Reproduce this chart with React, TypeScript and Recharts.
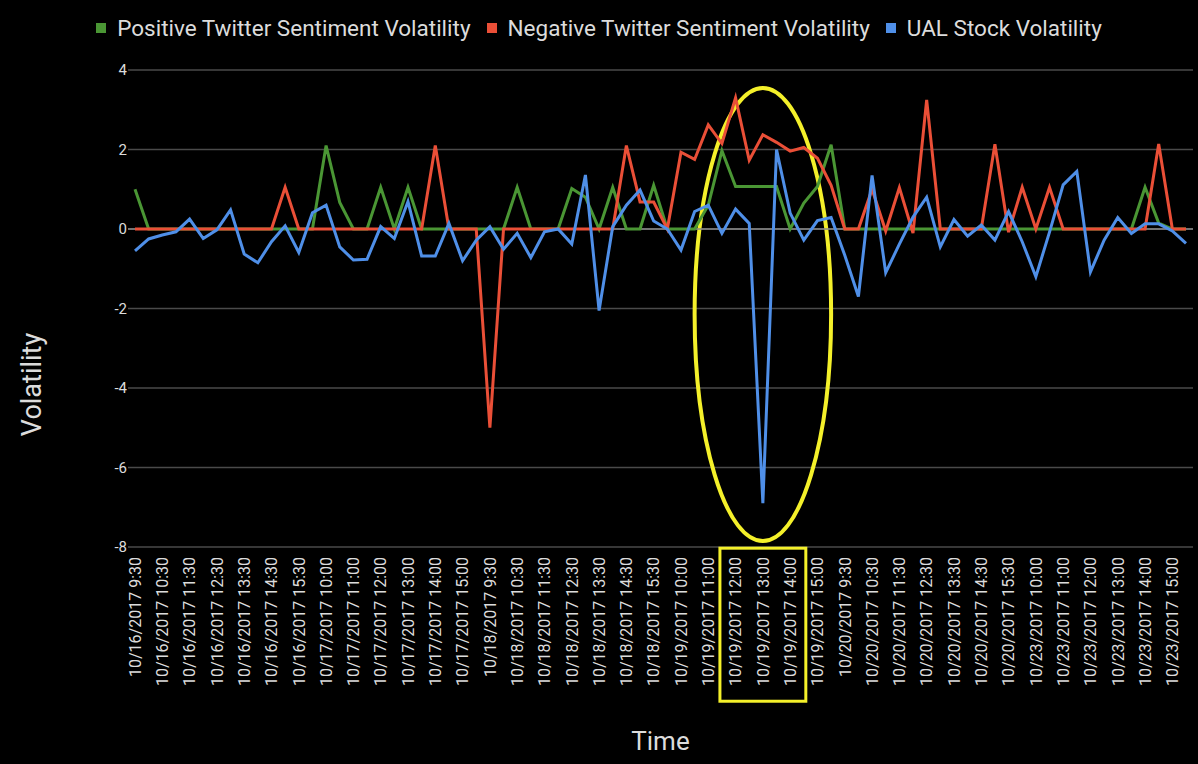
import React from 'react';
import { LineChart, Line, XAxis, YAxis, CartesianGrid, Legend, ReferenceLine, ReferenceArea } from 'recharts';

const DAYS = ['10/16/2017', '10/17/2017', '10/18/2017', '10/19/2017', '10/20/2017', '10/23/2017'];
const TIMES = ['9:30', '10:00', '10:30', '11:00', '11:30', '12:00', '12:30', '13:00', '13:30', '14:00', '14:30', '15:00', '15:30'];
const CATEGORIES = DAYS.flatMap((d) => TIMES.map((t) => `${d} ${t}`));

// one row per day (13 half-hour slots)
const POSITIVE = [
  1.0, 0, 0, 0, 0, 0, 0, 0, 0, 0, 0, 0, 0,
  0, 2.1, 0.67, 0, 0, 1.05, 0, 1.05, 0, 0, 0, 0, 0,
  0, 0, 1.05, 0, 0, 0, 1.02, 0.8, 0, 1.05, 0, 0, 1.1,
  0, 0, 0, 0.6, 1.97, 1.07, 1.07, 1.07, 1.07, 0, 0.65, 1.07, 2.12,
  0, 0, 0, 0, 0, 0, 0, 0, 0, 0, 0, 0, 0,
  0, 0, 0, 0, 0, 0, 0, 0, 0, 1.05, 0.15, 0, 0,
];
const NEGATIVE = [
  0, 0, 0, 0, 0, 0, 0, 0, 0, 0, 0, 1.05, 0,
  0, 0, 0, 0, 0, 0, 0, 0, 0, 2.1, 0, 0, 0,
  -5, 0, 0, 0, 0, 0, 0, 0, 0, 0, 2.1, 0.68, 0.68,
  0, 1.93, 1.75, 2.62, 2.15, 3.3, 1.73, 2.37, 2.18, 1.96, 2.05, 1.78, 1.1,
  0, 0, 1.0, -0.05, 1.04, -0.1, 3.25, 0, 0, 0, 0, 2.13, -0.08,
  1.05, 0, 1.05, 0, 0, 0, 0, 0, 0, 0, 2.14, 0, 0,
];
const UAL = [
  -0.55, -0.25, -0.15, -0.07, 0.25, -0.24, -0.02, 0.48, -0.63, -0.85, -0.32, 0.08, -0.59,
  0.41, 0.6, -0.45, -0.78, -0.76, 0.06, -0.24, 0.69, -0.68, -0.68, 0.14, -0.8, -0.28,
  0.06, -0.51, -0.11, -0.72, -0.07, 0.0, -0.38, 1.36, -2.05, 0.06, 0.6, 0.98, 0.2,
  0.0, -0.53, 0.44, 0.6, -0.11, 0.5, 0.14, -6.9, 2.0, 0.4, -0.28, 0.21, 0.29,
  -0.66, -1.7, 1.35, -1.1, -0.38, 0.3, 0.8, -0.45, 0.24, -0.18, 0.1, -0.28, 0.44,
  -0.32, -1.2, -0.08, 1.11, 1.45, -1.08, -0.28, 0.29, -0.11, 0.13, 0.13, -0.05, -0.36,
];
const Y_TICKS = [-8, -6, -4, -2, 0, 2, 4];

// highlighted window (ellipse around the drop, box around its labels)
const ELLIPSE_FROM = 41;
const ELLIPSE_TO = 51;
const ELLIPSE_Y = [-7.85, 3.55];
const BOX_FROM = 43;
const BOX_TO = 49;
const BOX_Y = [-8.03, -11.88];

const data = CATEGORIES.map((time, i) => ({
  time,
  positive: POSITIVE[i],
  negative: NEGATIVE[i],
  ual: UAL[i],
}));

const SERIES = [
  { key: 'positive', name: 'Positive Twitter Sentiment Volatility', color: '#4a9634' },
  { key: 'negative', name: 'Negative Twitter Sentiment Volatility', color: '#ea4f37' },
  { key: 'ual', name: 'UAL Stock Volatility', color: '#4f8fe8' },
];

const font = 'Roboto, "Noto Sans", sans-serif';
const textColor = '#dcdcdc';
const yellow = '#f4f02a';

const TimeTick = ({ x, y, payload }: any) => (
  <text
    x={x}
    y={y + 2}
    transform={`rotate(-90, ${x}, ${y + 2})`}
    textAnchor="end"
    dy="0.36em"
    fill={textColor}
    fontSize={16}
    fontFamily={font}
  >
    {payload.value}
  </text>
);

const LegendContent = () => (
  <div style={{ display: 'flex', justifyContent: 'center', alignItems: 'flex-start', height: 56, fontFamily: font, fontSize: 22.5, lineHeight: '28px', color: textColor }}>
    {SERIES.map((s) => (
      <div key={s.key} style={{ display: 'flex', alignItems: 'center', margin: '0 8px' }}>
        <span style={{ width: 10, height: 10, background: s.color, marginRight: 11, display: 'inline-block' }} />
        <span>{s.name}</span>
      </div>
    ))}
  </div>
);

const EllipseShape = ({ x, y, width, height }: any) => (
  <ellipse cx={x + width / 2} cy={y + height / 2} rx={width / 2} ry={height / 2} fill="none" stroke={yellow} strokeWidth={4} />
);

const BoxShape = ({ x, y, width, height }: any) => (
  <rect x={x - 2} y={y} width={width + 4} height={height} fill="none" stroke={yellow} strokeWidth={3} />
);

export default function App() {
  return (
    <div style={{ position: 'absolute', left: 0, top: 0, width: 1198, height: 764, background: '#000' }}>
      <LineChart width={1198} height={764} data={data} margin={{ top: 14, right: 5, bottom: 12, left: 68 }}>
        <CartesianGrid vertical={false} stroke="#4a4a4a" strokeWidth={1.5} />
        <XAxis
          dataKey="time"
          interval={1}
          tick={<TimeTick />}
          tickLine={false}
          axisLine={false}
          padding={{ left: 7, right: 7 }}
          height={205}
          label={{ value: 'Time', position: 'insideBottom', offset: 2, fill: textColor, fontSize: 26, fontFamily: font }}
        />
        <YAxis
          domain={[-8, 4]}
          ticks={Y_TICKS}
          tickLine={false}
          axisLine={false}
          width={60}
          dx={7}
          tick={{ fill: textColor, fontSize: 15, fontFamily: font }}
          label={({ viewBox }: any) => (
            <text
              x={viewBox.x - 36}
              y={viewBox.y + viewBox.height / 2 + 76}
              transform={`rotate(-90, ${viewBox.x - 36}, ${viewBox.y + viewBox.height / 2 + 76})`}
              textAnchor="middle"
              dy="0.35em"
              fill={textColor}
              fontSize={27}
              fontFamily={font}
            >
              Volatility
            </text>
          )}
        />
        <ReferenceLine y={0} stroke="#8a8a8a" strokeWidth={1.5} />
        <Legend verticalAlign="top" wrapperStyle={{ left: 0, width: 1198 }} content={<LegendContent />} />
        {SERIES.map((s) => (
          <Line
            key={s.key}
            type="linear"
            dataKey={s.key}
            name={s.name}
            stroke={s.color}
            strokeWidth={3}
            dot={false}
            isAnimationActive={false}
          />
        ))}
        <ReferenceArea
          x1={CATEGORIES[ELLIPSE_FROM]}
          x2={CATEGORIES[ELLIPSE_TO]}
          y1={ELLIPSE_Y[0]}
          y2={ELLIPSE_Y[1]}
          ifOverflow="visible"
          shape={<EllipseShape />}
        />
        <ReferenceArea
          x1={CATEGORIES[BOX_FROM]}
          x2={CATEGORIES[BOX_TO]}
          y1={BOX_Y[0]}
          y2={BOX_Y[1]}
          ifOverflow="visible"
          shape={<BoxShape />}
        />
      </LineChart>
    </div>
  );
}
